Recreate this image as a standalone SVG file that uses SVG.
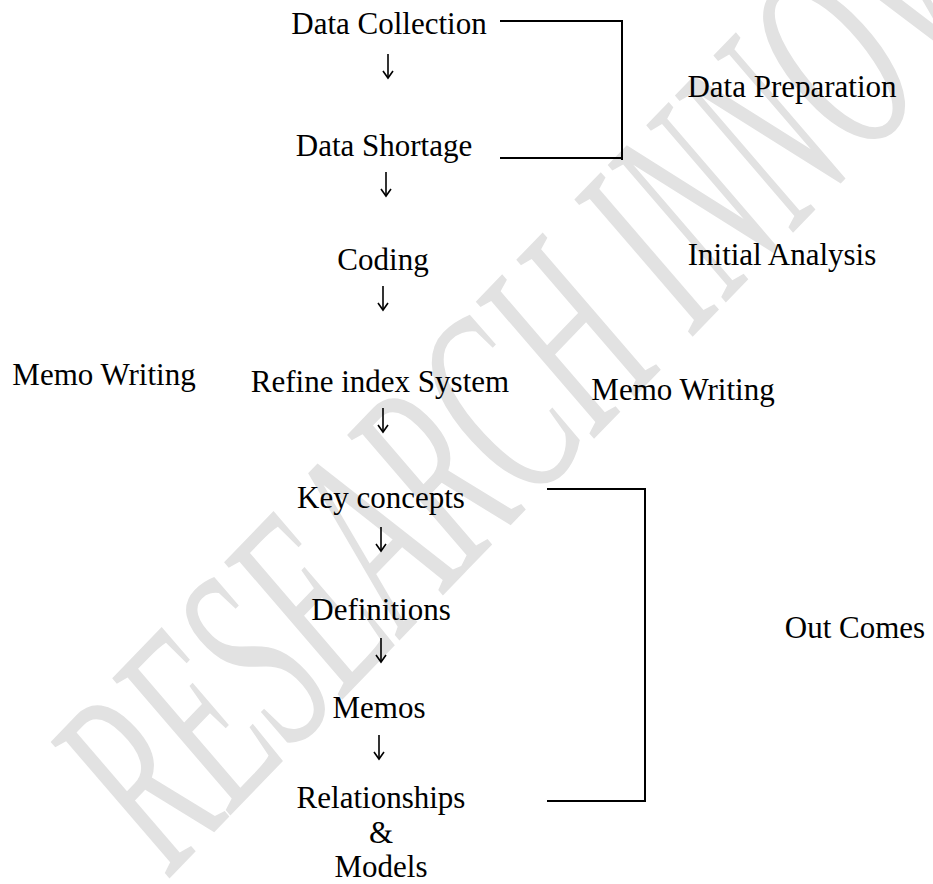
<svg xmlns="http://www.w3.org/2000/svg" width="933" height="884" viewBox="0 0 933 884">
<style>
.t{font-family:"Liberation Serif","Times New Roman",serif;font-size:31px;fill:#000;text-anchor:middle}
.br{fill:none;stroke:#000;stroke-width:2}
.ln{fill:none;stroke:#000;stroke-width:1.6}
.wm{font-family:"Liberation Serif","Times New Roman",serif;font-style:italic;font-size:145px;fill:#e2e2e2}
</style>
<defs>
<g id="down">
<line class="ln" x1="0" y1="0" x2="0" y2="24"/>
<polyline class="ln" points="-5,17 0,24 5,17"/>
</g>
</defs>
<rect width="933" height="884" fill="#fff"/>
<g id="watermark">
<text class="wm" transform="translate(170,878) rotate(-46) scale(1,1.9)">RESEARCH INNOV</text>
</g>
<g id="connectors">
<polyline class="br" points="500,21 622,21 622,160"/>
<polyline class="br" points="500,158 622,158"/>
<polyline class="br" points="547,489 645,489 645,801 547,801"/>
<use href="#down" x="388" y="54"/>
<use href="#down" x="386" y="172"/>
<use href="#down" x="383" y="286"/>
<use href="#down" x="383" y="408"/>
<use href="#down" x="381" y="527"/>
<use href="#down" x="381" y="638"/>
<use href="#down" x="379" y="735"/>
</g>
<g id="data-collection"><text class="t" x="389" y="34">Data Collection</text></g>
<g id="data-shortage"><text class="t" x="384" y="156">Data Shortage</text></g>
<g id="data-preparation"><text class="t" x="792" y="97">Data Preparation</text></g>
<g id="coding"><text class="t" x="383" y="270">Coding</text></g>
<g id="initial-analysis"><text class="t" x="782" y="265">Initial Analysis</text></g>
<g id="memo-writing-left"><text class="t" x="104" y="385">Memo Writing</text></g>
<g id="refine-index"><text class="t" x="380" y="392">Refine index System</text></g>
<g id="memo-writing-right"><text class="t" x="683" y="400">Memo Writing</text></g>
<g id="key-concepts"><text class="t" x="381" y="508">Key concepts</text></g>
<g id="definitions"><text class="t" x="381" y="620">Definitions</text></g>
<g id="memos"><text class="t" x="379" y="718">Memos</text></g>
<g id="relationships"><text class="t" x="381" y="808">Relationships</text><text class="t" x="381" y="843">&amp;</text><text class="t" x="381" y="877">Models</text></g>
<g id="out-comes"><text class="t" x="855" y="638">Out Comes</text></g>
</svg>
